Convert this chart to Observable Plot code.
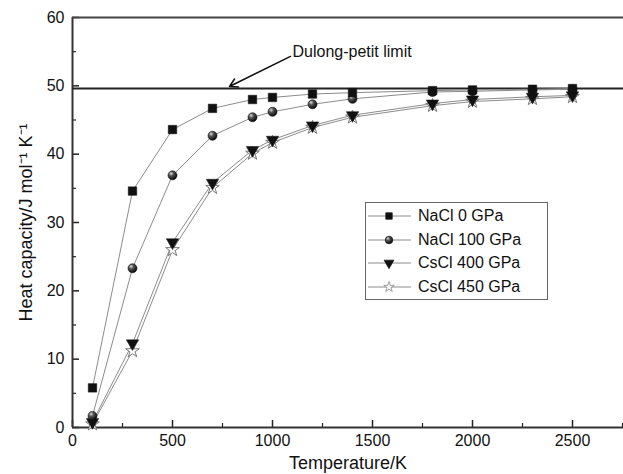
<!DOCTYPE html>
<html><head><meta charset="utf-8">
<script src="https://cdn.jsdelivr.net/npm/d3@7"></script>
<script src="https://cdn.jsdelivr.net/npm/@observablehq/plot@0.6"></script>
<style>
body{margin:0;background:#fff;font-family:"Liberation Sans",Arial,sans-serif;}
#wrap{position:relative;width:623px;height:474px;}
#legend{position:absolute;left:365px;top:202px;width:183px;height:98px;border:1.5px solid #666;box-sizing:border-box;background:#fff;font-size:16px;color:#111;}
.row{position:absolute;left:0;height:22px;display:flex;align-items:center;}
.row svg{margin-left:1px;}
.row span{margin-left:6px;}
</style></head><body>
<div id="wrap"><div id="chart"></div><div id="legend"></div></div>
<script>
const temps = [100, 300, 500, 700, 900, 1000, 1200, 1400, 1800, 2000, 2300, 2500];
const nacl0   = [5.8, 34.6, 43.6, 46.7, 48.0, 48.3, 48.8, 49.0, 49.3, 49.4, 49.5, 49.6];
const nacl100 = [1.7, 23.3, 36.9, 42.7, 45.4, 46.2, 47.3, 48.1, 49.1, 49.2, 49.4, 49.5];
const cscl400 = [0.8, 12.3, 27.1, 35.8, 40.6, 42.1, 44.2, 45.7, 47.4, 48.0, 48.4, 48.6];
const cscl450 = [0.5, 11.2, 26.0, 35.1, 40.1, 41.7, 43.9, 45.4, 47.1, 47.7, 48.1, 48.4];
const seriesNames = ["NaCl 0 GPa", "NaCl 100 GPa", "CsCl 400 GPa", "CsCl 450 GPa"];
const dulongPetit = 49.6;
const xTicks = [0, 500, 1000, 1500, 2000, 2500];
const xMinor = [250, 750, 1250, 1750, 2250, 2750];
const yTicks = [0, 10, 20, 30, 40, 50, 60];
const yMinor = [5, 15, 25, 35, 45, 55];

const mk = (vals) => temps.map((t, i) => ({t, v: vals[i]}));
const s0 = mk(nacl0), s1 = mk(nacl100), s2 = mk(cscl400), s3 = mk(cscl450);

const W = 623, H = 474, mL = 72, mR = 0, mT = 17, mB = 47;
const fw = W - mL - mR, fh = H - mT - mB;
const axisColor = "#222";
const lineColor = "#8c8c8c";
const plot = Plot.plot({
  width: W, height: H,
  marginLeft: mL, marginRight: mR, marginTop: mT, marginBottom: mB,
  style: {fontFamily: "'Liberation Sans', Arial, sans-serif", fontSize: "16px", color: "#111", background: "#fff"},
  x: {domain: [0, 2755]},
  y: {domain: [0, 60]},
  marks: [
    Plot.axisX({ticks: xTicks, tickSize: 0, tickPadding: 7, tickFormat: d3.format("d"), fontSize: 16, label: null}),
    Plot.axisY({ticks: yTicks, tickSize: 0, tickPadding: 8, tickFormat: d3.format("d"), fontSize: 16, label: null}),
    // inward tick marks
    Plot.ruleX(xTicks, {x: d => d, insetTop: fh - 7, stroke: axisColor, strokeWidth: 1.5}),
    Plot.ruleX(xMinor, {x: d => d, insetTop: fh - 4, stroke: axisColor, strokeWidth: 1.2}),
    Plot.ruleY(yTicks, {y: d => d, insetRight: fw - 7, stroke: axisColor, strokeWidth: 1.5}),
    Plot.ruleY(yMinor, {y: d => d, insetRight: fw - 4, stroke: axisColor, strokeWidth: 1.2}),
    Plot.text(["Temperature/K"], {frameAnchor: "bottom", textAnchor: "middle", dy: 41, fontSize: 18, fill: "#111"}),
    Plot.text(["Heat capacity/J mol⁻¹ K⁻¹"], {frameAnchor: "left", textAnchor: "middle", lineAnchor: "middle", dx: -46, rotate: -90, fontSize: 18, fill: "#111"}),
    Plot.ruleY([0], {stroke: "#333", strokeWidth: 2}),
    Plot.ruleX([0], {stroke: "#333", strokeWidth: 2}),
    Plot.ruleY([60], {stroke: "#444", strokeWidth: 2.2}),
    Plot.ruleY([dulongPetit], {stroke: "#222", strokeWidth: 2}),
    Plot.arrow([{x1: 1090, y1: 54.3, x2: 785, y2: 49.9}], {x1: "x1", y1: "y1", x2: "x2", y2: "y2", stroke: "#111", strokeWidth: 1.5, headLength: 9, bend: false}),
    Plot.text(["Dulong-petit limit"], {x: 1100, y: 54.9, textAnchor: "start", fontSize: 16, fill: "#111"}),
    Plot.line(s0, {x: "t", y: "v", stroke: lineColor, strokeWidth: 1}),
    Plot.line(s1, {x: "t", y: "v", stroke: lineColor, strokeWidth: 1}),
    Plot.line(s2, {x: "t", y: "v", stroke: lineColor, strokeWidth: 1}),
    Plot.line(s3, {x: "t", y: "v", stroke: lineColor, strokeWidth: 1}),
    Plot.dot(s3, {x: "t", y: "v", symbol: "star", r: 4.3, fill: "#fff", stroke: "#777", strokeWidth: 1}),
    Plot.dot(s2, {x: "t", y: "v", symbol: "triangle", rotate: 180, r: 4.6, fill: "#111", stroke: "#111", strokeWidth: 0.5}),
    Plot.dot(s1, {x: "t", y: "v", symbol: "circle", r: 4.5, fill: "url(#sphere)", stroke: "#111", strokeWidth: 0.6}),
    Plot.dot(s0, {x: "t", y: "v", symbol: "square", r: 4.8, fill: "#111", stroke: "#111", strokeWidth: 0.5})
  ]
});
const svg = d3.select(plot);
const defs = svg.insert("defs", ":first-child");
const g = defs.append("radialGradient").attr("id", "sphere").attr("cx", "0.35").attr("cy", "0.3").attr("r", "0.75");
g.append("stop").attr("offset", "0").attr("stop-color", "#ddd");
g.append("stop").attr("offset", "0.35").attr("stop-color", "#555");
g.append("stop").attr("offset", "1").attr("stop-color", "#000");
document.getElementById("chart").appendChild(plot);

// legend
const legend = d3.select("#legend");
const syms = [
  {sym: d3.symbolSquare, size: 42, fill: "#111", stroke: "#111", rot: 0},
  {sym: d3.symbolCircle, size: 45, fill: "url(#sphere)", stroke: "#111", rot: 0},
  {sym: d3.symbolTriangle, size: 42, fill: "#111", stroke: "#111", rot: 180},
  {sym: d3.symbolStar, size: 34, fill: "#fff", stroke: "#777", rot: 0}
];
seriesNames.forEach((name, i) => {
  const row = legend.append("div").attr("class", "row").style("top", (2 + i * 23.6) + "px");
  const s = row.append("svg").attr("width", 45).attr("height", 22);
  s.append("line").attr("x1", 1).attr("x2", 44).attr("y1", 11).attr("y2", 11).attr("stroke", lineColor).attr("stroke-width", 1);
  s.append("path").attr("d", d3.symbol(syms[i].sym, syms[i].size)())
    .attr("transform", `translate(22,11) rotate(${syms[i].rot})`)
    .attr("fill", syms[i].fill).attr("stroke", syms[i].stroke).attr("stroke-width", 0.7);
  row.append("span").text(name);
});
</script>
</body></html>
